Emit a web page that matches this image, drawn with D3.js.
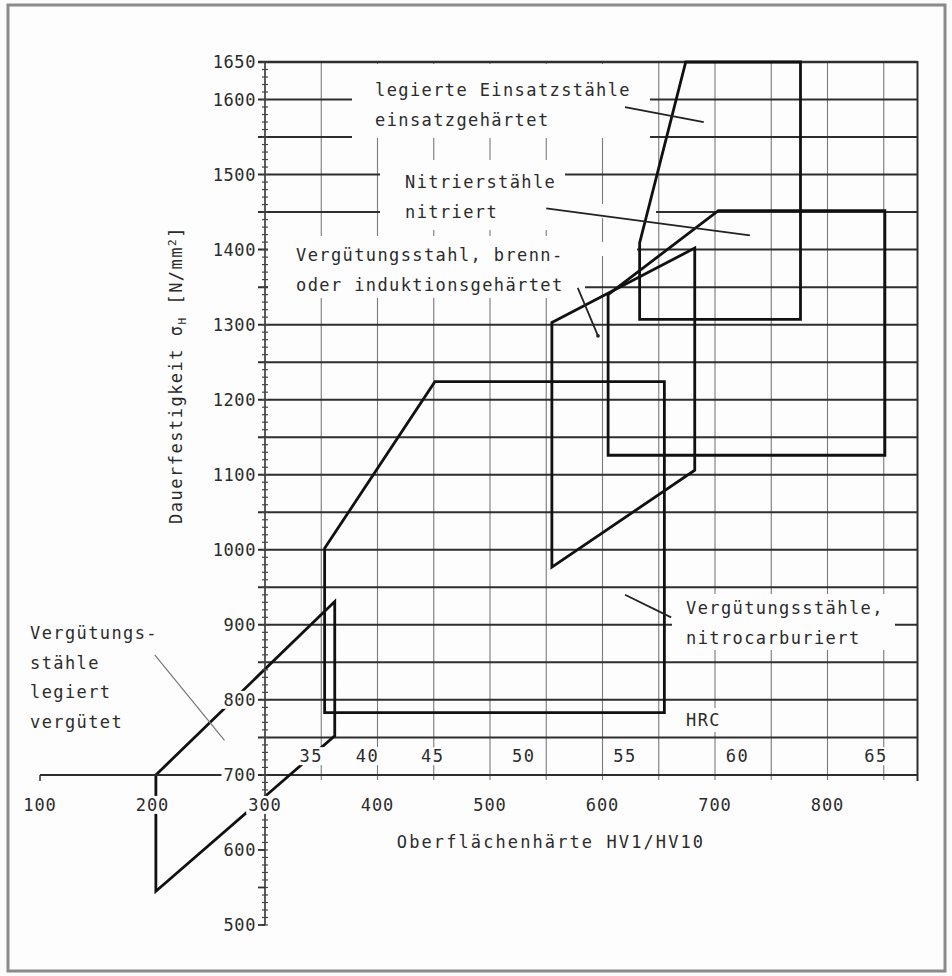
<!DOCTYPE html>
<html>
<head>
<meta charset="utf-8">
<script src="https://cdn.jsdelivr.net/npm/d3@7"></script>
<style>
  body { margin: 0; background: #fbfbfb; }
  svg text {
    font-family: "DejaVu Sans Mono", "Liberation Mono", monospace;
    fill: #2b2b2b;
  }
</style>
</head>
<body>
<div id="chart"></div>
<script>
// Dauerfestigkeit vs. Oberflächenhärte
const hvTicks = [100, 200, 300, 400, 500, 600, 700, 800];
const hvGrid = [350, 400, 450, 500, 550, 600, 650, 700, 750, 800, 850];
const sigmaLabels = [500, 600, 700, 800, 900, 1000, 1100, 1200, 1300, 1400, 1500, 1600, 1650];
const sigmaGrid = d3.range(700, 1651, 50);
const sigmaMajor = [500, 550, 600, 650];
const hrcLabels = ["35", "40", "45", "50", "55", "60", "65"];
const hrcHV = [341, 391, 449, 530, 620, 720, 843];

// regions as [HV, sigma] corner points
const einsatzPts = [[674, 1650], [776, 1650], [776, 1307], [633, 1307], [633, 1409]];
const nitrierPts = [[605, 1340], [703, 1452], [851, 1452], [851, 1126], [605, 1126]];
const brennPts = [[555, 1303], [682, 1402], [682, 1106], [555, 977]];
const nitrocarbPts = [[353, 1002], [451, 1224], [655, 1224], [655, 783], [353, 783]];
const verguetPts = [[203, 700], [362, 931], [362, 752], [203, 545]];
const regions = [einsatzPts, nitrierPts, brennPts, nitrocarbPts, verguetPts];

// leader lines [from, to] in [HV, sigma]
const leaders = [
  [[620, 1590], [690, 1570]],
  [[550, 1455], [731, 1419]],
  [[578, 1349], [596, 1285]],
  [[620, 940], [661, 910]],
  [[202, 860], [264, 746]]
];

const width = 952, height = 976;

const svg = d3.select("#chart")
  .append("svg")
  .attr("width", width)
  .attr("height", height);

let x = d3.scaleLinear().domain([300, 880]).range([265, 917.5]);
let y = d3.scaleLinear().domain([500, 1650]).range([925, 62]);

// outer frame
svg.append("rect")
  .attr("x", 8).attr("y", 5)
  .attr("width", 937).attr("height", 966)
  .attr("fill", "#fdfdfd")
  .attr("stroke", "#8a8a8a")
  .attr("stroke-width", 3);

// vertical grid
svg.append("g")
  .selectAll("line")
  .data(hvGrid)
  .join("line")
  .attr("x1", d => x(d)).attr("x2", d => x(d))
  .attr("y1", y(1650)).attr("y2", y(700) + 5)
  .attr("stroke", "#7a7a7a")
  .attr("stroke-width", 1.1);

// horizontal grid
svg.append("g")
  .selectAll("line")
  .data(sigmaGrid)
  .join("line")
  .attr("x1", x(300) - 7).attr("x2", x(880))
  .attr("y1", d => y(d)).attr("y2", d => y(d))
  .attr("stroke", "#2e2e2e")
  .attr("stroke-width", d => d === 1650 ? 2.6 : 2);

// right border of the plot
svg.append("line")
  .attr("x1", x(880)).attr("x2", x(880))
  .attr("y1", y(1650) - 1).attr("y2", y(700) + 6)
  .attr("stroke", "#2e2e2e")
  .attr("stroke-width", 2);

// white boxes behind the annotation texts (break the grid like the original)
const knockouts = [
  [352, 64, 298, 74],
  [380, 160, 185, 70],
  [560, 204, 96, 14],
  [268, 236, 317, 62],
  [580, 242, 57, 14],
  [672, 594, 223, 56],
  [682, 708, 46, 24]
];
svg.append("g")
  .selectAll("rect")
  .data(knockouts)
  .join("rect")
  .attr("x", d => d[0]).attr("y", d => d[1])
  .attr("width", d => d[2]).attr("height", d => d[3])
  .attr("fill", "#fdfdfd");

// regions
const line = d3.line().x(d => x(d[0])).y(d => y(d[1]));
svg.append("g")
  .selectAll("path")
  .data(regions)
  .join("path")
  .attr("d", d => line(d) + "Z")
  .attr("fill", "none")
  .attr("stroke", "#111")
  .attr("stroke-width", 2.8)
  .attr("stroke-linejoin", "miter");

// left extension of the HV scale
svg.append("line")
  .attr("x1", x(100)).attr("x2", x(300))
  .attr("y1", y(700)).attr("y2", y(700))
  .attr("stroke", "#2e2e2e")
  .attr("stroke-width", 2);
svg.append("line")
  .attr("x1", x(100)).attr("x2", x(100))
  .attr("y1", y(700)).attr("y2", y(700) + 6)
  .attr("stroke", "#2e2e2e")
  .attr("stroke-width", 1.5);

// y axis: minor ticks on both sides, labels every 100
let yAxis = svg.append("g").attr("transform", `translate(${x(300)},0)`);
yAxis.append("line")
  .attr("y1", y(1650)).attr("y2", y(500))
  .attr("stroke", "#333").attr("stroke-width", 1.6);
yAxis.selectAll(".minor")
  .data(d3.range(500, 1651, 10))
  .join("line")
  .attr("class", "minor")
  .attr("x1", -3).attr("x2", 3)
  .attr("y1", d => y(d)).attr("y2", d => y(d))
  .attr("stroke", "#444").attr("stroke-width", 1.2);
yAxis.selectAll(".major")
  .data(sigmaMajor)
  .join("line")
  .attr("class", "major")
  .attr("x1", -7).attr("x2", 0)
  .attr("y1", d => y(d)).attr("y2", d => y(d))
  .attr("stroke", "#333").attr("stroke-width", 1.8);

const tickFont = 17;

function labelWithBox(g) {
  // text with a white box behind it
  g.each(function() {
    const t = d3.select(this).select("text");
    const b = t.node().getBBox();
    d3.select(this).insert("rect", "text")
      .attr("x", b.x - 2).attr("y", b.y + 1)
      .attr("width", b.width + 4).attr("height", b.height - 2)
      .attr("fill", "#fdfdfd");
  });
}

let yLab = yAxis.selectAll(".ylab")
  .data(sigmaLabels)
  .join("g")
  .attr("class", "ylab")
  .attr("transform", d => `translate(-9,${y(d)})`);
yLab.append("text")
  .attr("text-anchor", "end")
  .attr("dominant-baseline", "central")
  .attr("font-size", tickFont)
  .attr("letter-spacing", 0.6)
  .text(d => d);
labelWithBox(yLab);

// x tick labels
let xLab = svg.selectAll(".xlab")
  .data(hvTicks)
  .join("g")
  .attr("class", "xlab")
  .attr("transform", d => `translate(${x(d)},${y(700) + 30})`);
xLab.append("text")
  .attr("text-anchor", "middle")
  .attr("dominant-baseline", "central")
  .attr("font-size", tickFont)
  .attr("letter-spacing", 1)
  .text(d => d);
labelWithBox(xLab);

// HRC scale between the 700 and 750 lines
let hrc = svg.selectAll(".hrc")
  .data(hrcLabels)
  .join("g")
  .attr("class", "hrc")
  .attr("transform", (d, i) => `translate(${x(hrcHV[i])},${y(725)})`);
hrc.append("text")
  .attr("text-anchor", "middle")
  .attr("dominant-baseline", "central")
  .attr("font-size", tickFont)
  .attr("letter-spacing", 1.5)
  .text(d => d);
labelWithBox(hrc);

// annotations
const notes = [
  { x: 375, y: 90, lines: ["legierte Einsatzstähle", "einsatzgehärtet"] },
  { x: 405, y: 182, lines: ["Nitrierstähle", "nitriert"] },
  { x: 296, y: 255, lines: ["Vergütungsstahl, brenn-", "oder induktionsgehärtet"] },
  { x: 686, y: 608, lines: ["Vergütungsstähle,", "nitrocarburiert"] },
  { x: 30, y: 633, lines: ["Vergütungs-", "stähle", "legiert", "vergütet"], step: 29.5 },
  { x: 686, y: 720, lines: ["HRC"] }
];
notes.forEach(n => {
  svg.append("text")
    .attr("font-size", 17)
    .attr("letter-spacing", 1.4)
    .selectAll("tspan")
    .data(n.lines)
    .join("tspan")
    .attr("x", n.x)
    .attr("y", (d, i) => n.y + i * (n.step || 30) + 6)
    .text(d => d);
});

svg.append("g")
  .selectAll("line")
  .data(leaders)
  .join("line")
  .attr("x1", d => x(d[0][0])).attr("y1", d => y(d[0][1]))
  .attr("x2", d => x(d[1][0])).attr("y2", d => y(d[1][1]))
  .attr("stroke", (d, i) => i === 4 ? "#777" : "#222")
  .attr("stroke-width", (d, i) => i === 4 ? 1.2 : 1.8);

svg.append("circle")
  .attr("cx", x(leaders[2][1][0])).attr("cy", y(leaders[2][1][1]))
  .attr("r", 1.8).attr("fill", "#222");

// axis titles
svg.append("text")
  .attr("x", 551).attr("y", 848)
  .attr("text-anchor", "middle")
  .attr("font-size", 17)
  .attr("letter-spacing", 2.1)
  .text("Oberflächenhärte HV1/HV10");

let yTitle = svg.append("text")
  .attr("transform", "translate(182,375) rotate(-90)")
  .attr("text-anchor", "middle")
  .attr("font-size", 17)
  .attr("letter-spacing", 1.5);
yTitle.append("tspan").text("Dauerfestigkeit σ");
yTitle.append("tspan").attr("font-size", 11).attr("dy", 4).text("H");
yTitle.append("tspan").attr("dy", -4).text(" [N/mm");
yTitle.append("tspan").attr("font-size", 11).attr("dy", -6).text("2");
yTitle.append("tspan").attr("dy", 6).text("]");
</script>
</body>
</html>
